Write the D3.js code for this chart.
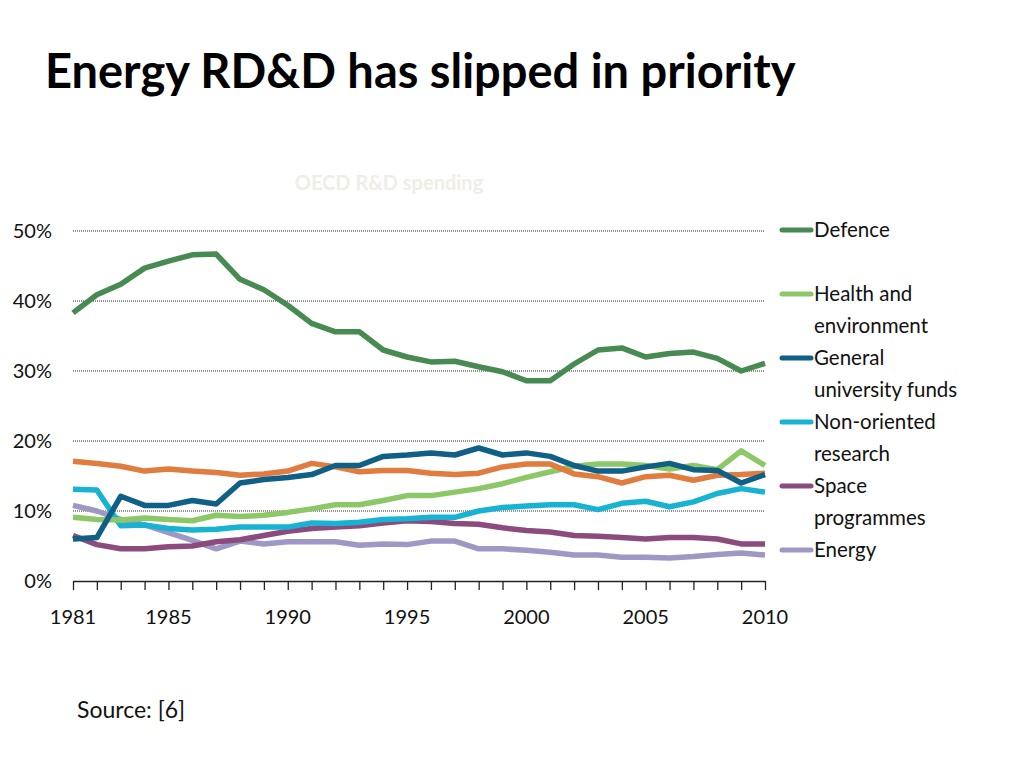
<!DOCTYPE html>
<html>
<head>
<meta charset="utf-8">
<script src="https://cdn.jsdelivr.net/npm/d3@7"></script>
<style>
  body { margin: 0; background: #fff; }
  text { font-family: Lato, "Noto Sans", sans-serif; }
</style>
</head>
<body>
<div id="chart"></div>
<script>
// data (share of OECD R&D spending, %)
var years = d3.range(1981, 2011);
var defence = [38.3, 40.9, 42.4, 44.7, 45.7, 46.6, 46.7, 43.1, 41.6, 39.4, 36.8, 35.6, 35.6, 33.0, 32.0,
               31.3, 31.4, 30.6, 29.9, 28.6, 28.6, 31.0, 33.0, 33.3, 32.0, 32.5, 32.7, 31.8, 30.0, 31.1];
var health = [9.1, 8.8, 8.7, 9.0, 8.8, 8.6, 9.4, 9.2, 9.4, 9.8, 10.3, 10.9, 10.9, 11.5, 12.2,
              12.2, 12.7, 13.2, 13.9, 14.8, 15.6, 16.4, 16.7, 16.7, 16.5, 16.0, 16.5, 15.9, 18.6, 16.5];
var university = [6.0, 6.2, 12.1, 10.8, 10.8, 11.5, 11.0, 14.0, 14.5, 14.8, 15.2, 16.5, 16.5, 17.8, 18.0,
                  18.3, 18.0, 19.0, 18.0, 18.3, 17.8, 16.5, 15.7, 15.7, 16.3, 16.8, 15.9, 15.8, 14.0, 15.2];
var nonOriented = [13.1, 13.0, 7.9, 8.0, 7.5, 7.3, 7.4, 7.7, 7.7, 7.7, 8.3, 8.2, 8.4, 8.8, 8.9,
                   9.1, 9.1, 10.0, 10.5, 10.7, 10.9, 10.9, 10.2, 11.1, 11.4, 10.6, 11.3, 12.5, 13.2, 12.7];
var space = [6.5, 5.2, 4.6, 4.6, 4.9, 5.0, 5.6, 5.9, 6.5, 7.1, 7.5, 7.7, 7.9, 8.3, 8.6,
             8.5, 8.2, 8.1, 7.6, 7.2, 7.0, 6.5, 6.4, 6.2, 6.0, 6.2, 6.2, 6.0, 5.3, 5.3];
var energy = [10.8, 10.0, 8.8, 8.0, 6.9, 5.8, 4.6, 5.7, 5.3, 5.6, 5.6, 5.6, 5.1, 5.3, 5.2,
              5.7, 5.7, 4.6, 4.6, 4.4, 4.1, 3.7, 3.7, 3.4, 3.4, 3.3, 3.5, 3.8, 4.0, 3.7];
// orange series has no legend entry in the original
var industry = [17.1, 16.8, 16.4, 15.7, 16.0, 15.7, 15.5, 15.1, 15.3, 15.7, 16.8, 16.3, 15.6, 15.8, 15.8,
                15.4, 15.2, 15.4, 16.3, 16.7, 16.7, 15.3, 14.9, 14.0, 14.9, 15.1, 14.4, 15.1, 15.2, 15.4];

var yTicks = [0, 10, 20, 30, 40, 50];
var xTickLabels = [1981, 1985, 1990, 1995, 2000, 2005, 2010];

var series = [
  {name: null, values: industry, color: "#e07c3e"},
  {name: "Defence", values: defence, color: "#478a52"},
  {name: "Health and|environment", values: health, color: "#8cc868"},
  {name: "General|university funds", values: university, color: "#0f5f87"},
  {name: "Non-oriented|research", values: nonOriented, color: "#18b3d3"},
  {name: "Space|programmes", values: space, color: "#8c4b7f"},
  {name: "Energy", values: energy, color: "#9d98c4"}
];
// draw order: so that lines overlap like in the original
var drawOrder = [6, 5, 4, 2, 0, 3, 1];

var svg = d3.select("#chart").append("svg")
    .attr("width", 1024)
    .attr("height", 768);

// title
svg.append("text")
    .attr("x", 45)
    .attr("y", 88)
    .attr("font-size", 47)
    .attr("font-weight", "bold")
    .attr("fill", "#000")
    .text("Energy RD&D has slipped in priority");

// faint chart title
svg.append("text")
    .attr("x", 389)
    .attr("y", 190)
    .attr("text-anchor", "middle")
    .attr("font-size", 20)
    .attr("font-weight", "bold")
    .attr("fill", "#efeee6")
    .text("OECD R&D spending");

var x = d3.scaleLinear().domain([1981, 2010]).range([73, 765]);
var y = d3.scaleLinear().domain([0, 50]).range([581, 231]);

// dotted gridlines
svg.append("g")
  .selectAll("line")
  .data(yTicks.filter(function(d) { return d > 0; }))
  .enter().append("line")
    .attr("x1", 73)
    .attr("x2", 765)
    .attr("y1", function(d) { return y(d); })
    .attr("y2", function(d) { return y(d); })
    .attr("stroke", "#222")
    .attr("stroke-width", 1)
    .attr("stroke-dasharray", "1,1");

// y labels
svg.append("g")
  .selectAll("text")
  .data(yTicks)
  .enter().append("text")
    .attr("x", 52)
    .attr("y", function(d) { return y(d) + 7; })
    .attr("text-anchor", "end")
    .attr("font-size", 20)
    .attr("fill", "#111")
    .text(function(d) { return d + "%"; });

// x axis
var xAxis = svg.append("g")
    .attr("transform", "translate(0,581)")
    .call(d3.axisBottom(x).tickValues(years).tickSize(9).tickSizeOuter(0).tickFormat(""));
xAxis.select(".domain").attr("stroke", "#222").attr("stroke-width", 1.3);
xAxis.selectAll(".tick line").attr("stroke", "#222").attr("stroke-width", 1.3);

svg.append("g")
  .selectAll("text")
  .data(xTickLabels)
  .enter().append("text")
    .attr("x", function(d) { return x(d); })
    .attr("y", 624)
    .attr("text-anchor", "middle")
    .attr("font-size", 20)
    .attr("fill", "#111")
    .text(function(d) { return d; });

// lines
var line = d3.line()
    .x(function(d, i) { return x(years[i]); })
    .y(function(d) { return y(d); });

svg.append("g")
  .selectAll("path")
  .data(drawOrder.map(function(i) { return series[i]; }))
  .enter().append("path")
    .attr("d", function(d) { return line(d.values); })
    .attr("fill", "none")
    .attr("stroke", function(d) { return d.color; })
    .attr("stroke-width", 5.5)
    .attr("stroke-linejoin", "round");

// legend
var legendRows = [230, 294, 358, 422, 486, 550];
var legend = svg.append("g")
  .selectAll("g")
  .data(series.slice(1))
  .enter().append("g")
    .attr("transform", function(d, i) { return "translate(0," + legendRows[i] + ")"; });

legend.append("line")
    .attr("x1", 782)
    .attr("x2", 811)
    .attr("y1", 0)
    .attr("y2", 0)
    .attr("stroke", function(d) { return d.color; })
    .attr("stroke-width", 5)
    .attr("stroke-linecap", "round");

legend.each(function(d) {
  var parts = d.name.split("|");
  var t = d3.select(this).append("text")
      .attr("x", 814)
      .attr("y", 7)
      .attr("font-size", 20.5)
      .attr("fill", "#111");
  parts.forEach(function(p, j) {
    t.append("tspan")
        .attr("x", 814)
        .attr("dy", j === 0 ? 0 : 32)
        .text(p);
  });
});

// source
svg.append("text")
    .attr("x", 77)
    .attr("y", 718)
    .attr("font-size", 23)
    .attr("fill", "#111")
    .text("Source: [6]");
</script>
</body>
</html>
